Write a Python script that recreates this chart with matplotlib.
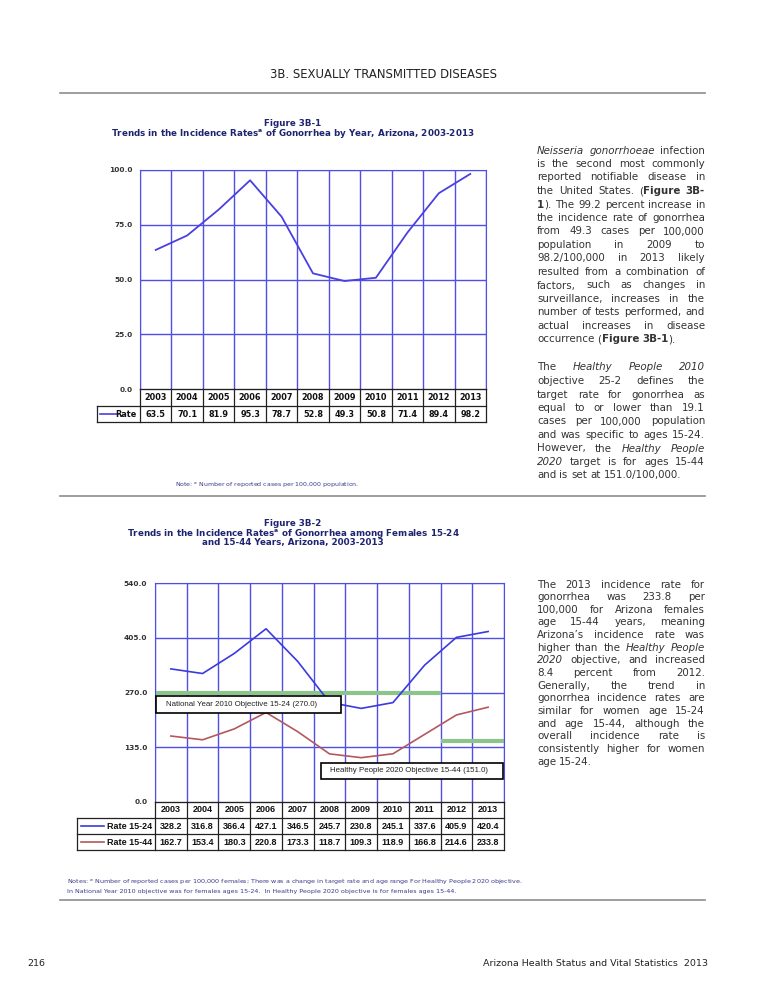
import matplotlib
matplotlib.use("Agg")
import matplotlib.pyplot as plt
from matplotlib.lines import Line2D
from matplotlib.patches import Rectangle

W, H = 765, 989

# data
years = [2003, 2004, 2005, 2006, 2007, 2008, 2009, 2010, 2011, 2012, 2013]
rate_all = [63.5, 70.1, 81.9, 95.3, 78.7, 52.8, 49.3, 50.8, 71.4, 89.4, 98.2]
rate_15_24 = [328.2, 316.8, 366.4, 427.1, 346.5, 245.7, 230.8, 245.1, 337.6, 405.9, 420.4]
rate_15_44 = [162.7, 153.4, 180.3, 220.8, 173.3, 118.7, 109.3, 118.9, 166.8, 214.6, 233.8]
ticks_1 = [0, 25, 50, 75, 100]
ticks_2 = [0, 135, 270, 405, 540]
obj_2010 = 270.0
obj_2010_years = (2003, 2011)
obj_2020 = 151.0
obj_2020_years = (2012, 2013)

GRID = "#4f4fe8"
NAVY = "#1f2470"
BODY = "#333333"
NOTE = "#3a3a8a"
GREEN = "#8cc48c"

fig = plt.figure(figsize=(W / 100, H / 100), dpi=100)
fig.patch.set_facecolor("white")


def fx(x):
    return x / W


def fy(y):
    return 1 - y / H


def add_box(l, t, r, b):
    return fig.add_axes([fx(l), fy(b), (r - l) / W, (b - t) / H])


def rule(y, x0=60, x1=705):
    fig.add_artist(Line2D([fx(x0), fx(x1)], [fy(y), fy(y)], color="#8c8c8c", lw=1.2))


def style_chart(ax, ticks, tick_fs, pad):
    n = len(years)
    ax.set_xlim(-0.5, n - 0.5)
    ax.set_ylim(ticks[0], ticks[-1])
    for k in range(n + 1):
        ax.axvline(k - 0.5, color=GRID, lw=1, zorder=1)
    for t in ticks[1:]:
        ax.axhline(t, color=GRID, lw=1, zorder=1)
    ax.set_xticks([])
    ax.set_yticks(ticks)
    ax.set_yticklabels([f"{t:.1f}" for t in ticks], fontsize=tick_fs,
                       fontweight="bold", color="#333333")
    ax.tick_params(axis="y", length=0, pad=pad)
    for s in ax.spines.values():
        s.set_color(GRID)
    ax.spines["bottom"].set_color("#333333")


def table(l, t, r, b, rows, labels, colors, head_l, line_px, label_r, fs, family):
    tab = add_box(l, t, r, b)
    n = len(years)
    nr = len(rows) + 1
    tab.set_xlim(-0.5, n - 0.5)
    tab.set_ylim(nr, 0)
    tab.axis("off")
    upx = (r - l) / n

    def dx(px):
        return -0.5 + (px - l) / upx

    kw = dict(color="#222222", lw=0.9, clip_on=False)
    hx = dx(head_l)
    tab.plot([-0.5, n - 0.5], [0, 0], **kw)
    for j in range(1, nr + 1):
        tab.plot([hx, n - 0.5], [j, j], **kw)
    for k in range(n + 1):
        tab.plot([k - 0.5, k - 0.5], [0, nr], **kw)
    tab.plot([hx, hx], [1, nr], **kw)
    tkw = dict(ha="center", va="center", fontsize=fs, fontweight="bold",
               family=family, color="#111111")
    for i, y in enumerate(years):
        tab.text(i, 0.5, str(y), **tkw)
    for j, (vals, lab, c) in enumerate(zip(rows, labels, colors), start=1):
        for i, v in enumerate(vals):
            tab.text(i, j + 0.55, f"{v:.1f}", **tkw)
        tab.plot([dx(line_px[0]), dx(line_px[1])], [j + 0.5, j + 0.5],
                 color=c, lw=1.2, clip_on=False)
        tab.text(dx(label_r), j + 0.55, lab, ha="right", va="center", fontsize=fs,
                 fontweight="bold", family=family, color="#111111")


# ---- page header / footer
fig.text(fx(383), fy(75), "3B. SEXUALLY TRANSMITTED DISEASES", ha="center",
         va="center", fontsize=8.4, color="#222222")
rule(93)
fig.text(fx(27), fy(963), "216", ha="left", va="center", fontsize=6.8, color="#222222")
fig.text(fx(708), fy(963), "Arizona Health Status and Vital Statistics  2013",
         ha="right", va="center", fontsize=6.8, color="#222222")

# ---- Figure 3B-1
tkw = dict(ha="center", va="center", fontsize=6.3, fontweight="bold", color=NAVY)
fig.text(fx(293), fy(123), "Figure 3B-1", **tkw)
fig.text(fx(293), fy(133),
         r"Trends in the Incidence Rates$^{\mathbf{a}}$ of Gonorrhea by Year, Arizona, 2003-2013",
         **tkw)

ax1 = add_box(140, 170, 486, 389)
style_chart(ax1, ticks_1, 5.3, 5.5)
ax1.plot(range(len(years)), rate_all, color="#4a3fe0", lw=1.3, zorder=3)
table(140, 389, 486, 422, [rate_all], ["Rate"], ["#4a3fe0"],
      97, (100, 118), 136, 5.9, "DejaVu Sans")

fig.text(fx(175), fy(485), r"Note: $^{a}$ Number of reported cases per 100,000 population.",
         ha="left", va="center", fontsize=4.5, color=NOTE)
rule(496)

# ---- Figure 3B-2
fig.text(fx(293), fy(523), "Figure 3B-2", **tkw)
fig.text(fx(293), fy(533),
         r"Trends in the Incidence Rates$^{\mathbf{a}}$ of Gonorrhea among Females 15-24", **tkw)
fig.text(fx(293), fy(543), "and 15-44 Years, Arizona, 2003-2013", **tkw)

L2, T2, R2, B2 = 155, 583, 504, 802
ax2 = add_box(L2, T2, R2, B2)
style_chart(ax2, ticks_2, 5.3, 5.5)
c24, c44 = "#3a3ae0", "#b3585c"
ax2.plot(range(len(years)), rate_15_24, color=c24, lw=1.2, zorder=3)
ax2.plot(range(len(years)), rate_15_44, color=c44, lw=1.2, zorder=3)
for val, (y0, y1) in [(obj_2010, obj_2010_years), (obj_2020, obj_2020_years)]:
    ax2.hlines(val, years.index(y0) - 0.5, years.index(y1) + 0.5, color=GREEN,
               lw=3, zorder=2.5)


def p2d(px, py):
    upx = (R2 - L2) / len(years)
    return -0.5 + (px - L2) / upx, (B2 - py) / (B2 - T2) * ticks_2[-1]


def label_box(l, t, r, b, text_l, text):
    x0, y0 = p2d(l, b)
    x1, y1 = p2d(r, t)
    ax2.add_patch(Rectangle((x0, y0), x1 - x0, y1 - y0, facecolor="white",
                            edgecolor="black", lw=1.2, zorder=4, clip_on=False))
    tx, _ = p2d(text_l, 0)
    ax2.text(tx, (y0 + y1) / 2, text, ha="left", va="center", fontsize=5.7,
             family="Liberation Sans", color="#222222", zorder=5)


label_box(156, 696, 341, 713, 166,
          f"National Year 2010 Objective 15-24 ({obj_2010:.1f})")
label_box(321, 763, 503, 779, 330,
          f"Healthy People 2020 Objective 15-44 ({obj_2020:.1f})")

table(L2, B2, R2, 850, [rate_15_24, rate_15_44], ["Rate 15-24", "Rate 15-44"],
      [c24, c44], 77, (81, 104), 152, 6.5, "Liberation Sans")

nkw = dict(ha="left", va="center", fontsize=4.6, color=NOTE)
fig.text(fx(67), fy(882),
         r"Notes: $^{a}$ Number of reported cases per 100,000 females; There was a change in "
         "target rate and age range For Healthy People 2020 objective.", **nkw)
fig.text(fx(67), fy(892),
         "In National Year 2010 objective was for females ages 15-24.  In Healthy People "
         "2020 objective is for females ages 15-44.", **nkw)
rule(900)

# ---- side text (justified)
para1 = [
    "*Neisseria gonorrhoeae* infection",
    "is the second most commonly",
    "reported notifiable disease in",
    "the United States. (^Figure 3B-^",
    "^1^). The 99.2 percent increase in",
    "the incidence rate of gonorrhea",
    "from 49.3 cases per 100,000",
    "population in 2009 to",
    "98.2/100,000 in 2013 likely",
    "resulted from a combination of",
    "factors, such as changes in",
    "surveillance, increases in the",
    "number of tests performed, and",
    "actual increases in disease",
    "occurrence (^Figure 3B-1^).",
]
para2 = [
    "The *Healthy People 2010*",
    "objective 25-2 defines the",
    "target rate for gonorrhea as",
    "equal to or lower than 19.1",
    "cases per 100,000 population",
    "and was specific to ages 15-24.",
    "However, the *Healthy People*",
    "*2020* target is for ages 15-44",
    "and is set at 151.0/100,000.",
]
para3 = [
    "The 2013 incidence rate for",
    "gonorrhea was 233.8 per",
    "100,000 for Arizona females",
    "age 15-44 years, meaning",
    "Arizona\u2019s incidence rate was",
    "higher than the *Healthy People*",
    "*2020* objective, and increased",
    "8.4 percent from 2012.",
    "Generally, the trend in",
    "gonorrhea incidence rates are",
    "similar for women age 15-24",
    "and age 15-44, although the",
    "overall incidence rate is",
    "consistently higher for women",
    "age 15-24.",
]

BODY_FS = 7.4
renderer = fig.canvas.get_renderer()


def parse(line):
    words, bold, ital = [], False, False
    for w in line.split(" "):
        segs, buf = [], ""
        for ch in w:
            if ch in "*^":
                if buf:
                    segs.append((buf, bold, ital))
                    buf = ""
                if ch == "^":
                    bold = not bold
                else:
                    ital = not ital
            else:
                buf += ch
        if buf:
            segs.append((buf, bold, ital))
        words.append(segs)
    return words


def advance(s, b, it):
    # width of s followed by a marker, minus the marker: close to the advance width
    kw = dict(fontsize=BODY_FS, fontweight="bold" if b else "normal",
              fontstyle="italic" if it else "normal")
    t1 = fig.text(0, 0, s + "l", **kw)
    t2 = fig.text(0, 0, "l", **kw)
    w = t1.get_window_extent(renderer).width - t2.get_window_extent(renderer).width
    t1.remove()
    t2.remove()
    return w


space_w = advance("a ", False, False) - advance("a", False, False)


def paragraph(lines, y0, lh, x0=537, x1=705):
    for i, line in enumerate(lines):
        y = y0 + i * lh + 3.5
        words = []
        for segs in parse(line):
            words.append([(s, b, it, advance(s, b, it)) for s, b, it in segs])
        wsum = sum(seg[3] for segs in words for seg in segs)
        last = i == len(lines) - 1
        gap = space_w if (last or len(words) < 2) else (x1 - x0 - wsum) / (len(words) - 1)
        x = x0
        for segs in words:
            for s, b, it, w in segs:
                fig.text(fx(x), fy(y), s, fontsize=BODY_FS, color=BODY, va="baseline",
                         fontweight="bold" if b else "normal",
                         fontstyle="italic" if it else "normal")
                x += w
            x += gap


paragraph(para1, 150, 13.5)
paragraph(para2, 367, 13.5)
paragraph(para3, 584, 12.65)

fig.savefig("out.png", dpi=100, facecolor="white")
